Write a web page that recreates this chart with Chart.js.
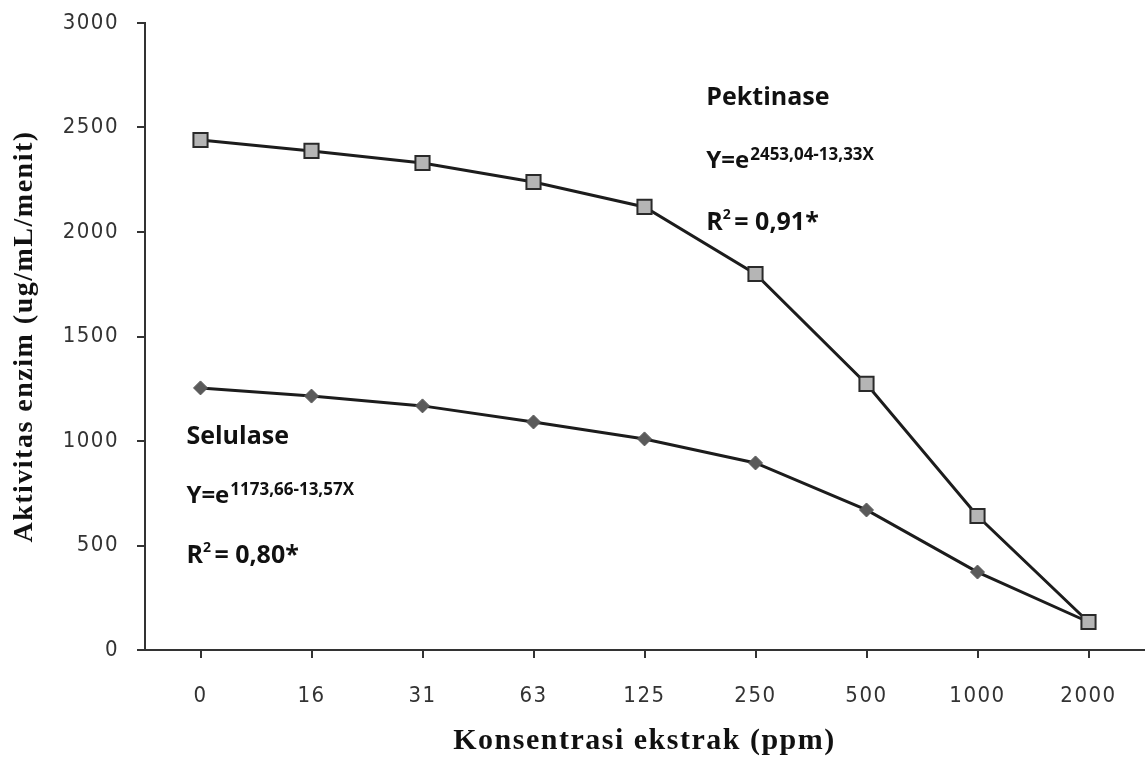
<!DOCTYPE html>
<html>
<head>
<meta charset="utf-8">
<script src="https://cdn.jsdelivr.net/npm/chart.js@4.4.0/dist/chart.umd.min.js"></script>
<style>
  html, body { margin: 0; padding: 0; background: #fff; overflow: hidden; }
  #wrap { width: 1146px; height: 767px; position: relative; }
  #enzimChart { display: block; }
</style>
</head>
<body>
<div id="wrap"><canvas id="enzimChart"></canvas></div>
<script>
// Konsentrasi ekstrak (ppm)
const categories = ['0', '16', '31', '63', '125', '250', '500', '1000', '2000'];

// Aktivitas enzim (ug/mL/menit)
const pektinase = [2440, 2388, 2330, 2239, 2120, 1799, 1273, 641, 134];
const selulase = [1254, 1215, 1168, 1091, 1010, 895, 670, 373, 134];

const yTicks = [0, 500, 1000, 1500, 2000, 2500, 3000];

const ink = '#1c1c1c';
const annoFont = '"Open Sans", "DejaVu Sans", sans-serif';
const tickFont = '"DejaVu Sans Condensed", "DejaVu Sans", sans-serif';
const titleFont = '"Liberation Serif", "Times New Roman", serif';

// Equation labels, anchored in data units (category index, value)
const notes = [
    { name: 'Pektinase', eq: '2453,04-13,33X', r2: '0,91*', idx: 4.557, top: 2608, step: 300 },
    { name: 'Selulase', eq: '1173,66-13,57X', r2: '0,80*', idx: -0.127, top: 986, step: 285 }
];

// wider letter spacing like the original picture
const spacingPlugin = {
    id: 'spacing',
    beforeUpdate(chart) { chart.ctx.letterSpacing = '1.5px'; },
    beforeDraw(chart) { chart.ctx.letterSpacing = '1.5px'; }
};

const equationPlugin = {
    id: 'equations',
    afterDatasetsDraw(chart) {
        const { ctx, scales: { x, y } } = chart;
        ctx.save();
        ctx.letterSpacing = '0px';
        ctx.fillStyle = '#111';
        ctx.textBaseline = 'alphabetic';
        ctx.textAlign = 'left';
        notes.forEach(n => {
            const left = x.getPixelForValue(n.idx);
            const y1 = y.getPixelForValue(n.top);
            const y2 = y.getPixelForValue(n.top - n.step);
            const y3 = y.getPixelForValue(n.top - n.step * 2);

            ctx.font = 'bold 25px ' + annoFont;
            ctx.fillText(n.name, left, y1);

            // Y=e with exponent
            ctx.font = 'bold 24px ' + annoFont;
            ctx.fillText('Y=e', left, y2);
            const w = ctx.measureText('Y=e').width;
            ctx.font = 'bold 17px ' + annoFont;
            ctx.fillText(n.eq, left + w + 1, y2 - 8);

            // R squared
            ctx.font = 'bold 25px ' + annoFont;
            ctx.fillText('R', left, y3);
            const wr = ctx.measureText('R').width;
            ctx.font = 'bold 14px ' + annoFont;
            ctx.fillText('2', left + wr, y3 - 11);
            ctx.font = 'bold 25px ' + annoFont;
            ctx.fillText(' = ' + n.r2, left + wr + 5, y3);
        });
        ctx.restore();
    }
};

const ctx = document.getElementById('enzimChart').getContext('2d');
new Chart(ctx, {
    type: 'line',
    data: {
        labels: categories,
        datasets: [
            {
                label: 'Pektinase',
                data: pektinase,
                borderColor: ink,
                borderWidth: 3,
                tension: 0,
                pointStyle: 'rect',
                pointRadius: 10,
                pointBackgroundColor: '#b5b5b5',
                pointBorderColor: '#2a2a2a',
                pointBorderWidth: 2
            },
            {
                label: 'Selulase',
                data: selulase,
                borderColor: ink,
                borderWidth: 3,
                tension: 0,
                pointStyle: 'rectRot',
                pointRadius: 7,
                pointBackgroundColor: '#5a5a5a',
                pointBorderColor: '#5a5a5a',
                pointBorderWidth: 1
            }
        ]
    },
    options: {
        responsive: true,
        maintainAspectRatio: false,
        animation: false,
        layout: { autoPadding: false, padding: { top: 23, right: 2, left: 0, bottom: 0 } },
        plugins: {
            legend: { display: false },
            tooltip: { enabled: false }
        },
        scales: {
            x: {
                offset: true,
                afterFit: s => { s.height = 117; s.paddingLeft = 0; s.paddingRight = 0; },
                border: { display: true, color: '#333', width: 2 },
                grid: { drawOnChartArea: false, drawTicks: true, tickLength: 8, color: '#333', lineWidth: 2 },
                ticks: {
                    color: '#333',
                    padding: 25,
                    font: { family: tickFont, size: 22 }
                },
                title: {
                    display: true,
                    text: 'Konsentrasi ekstrak (ppm)',
                    color: '#111',
                    padding: { top: 0, bottom: 8 },
                    font: { family: titleFont, size: 30, weight: 'bold' }
                }
            },
            y: {
                min: 0,
                max: 3000,
                afterFit: s => { s.width = 145; s.paddingTop = 0; s.paddingBottom = 0; },
                afterBuildTicks: s => { s.ticks = yTicks.map(v => ({ value: v })); },
                border: { display: true, color: '#333', width: 2 },
                grid: { drawOnChartArea: false, drawTicks: true, tickLength: 8, color: '#333', lineWidth: 2 },
                ticks: {
                    color: '#333',
                    padding: 18,
                    callback: v => String(v),
                    font: { family: tickFont, size: 22 }
                },
                title: {
                    display: true,
                    text: 'Aktivitas enzim (ug/mL/menit)',
                    color: '#111',
                    padding: { top: 8, bottom: 0 },
                    font: { family: titleFont, size: 28, weight: 'bold' }
                }
            }
        }
    },
    plugins: [spacingPlugin, equationPlugin]
});
</script>
</body>
</html>
